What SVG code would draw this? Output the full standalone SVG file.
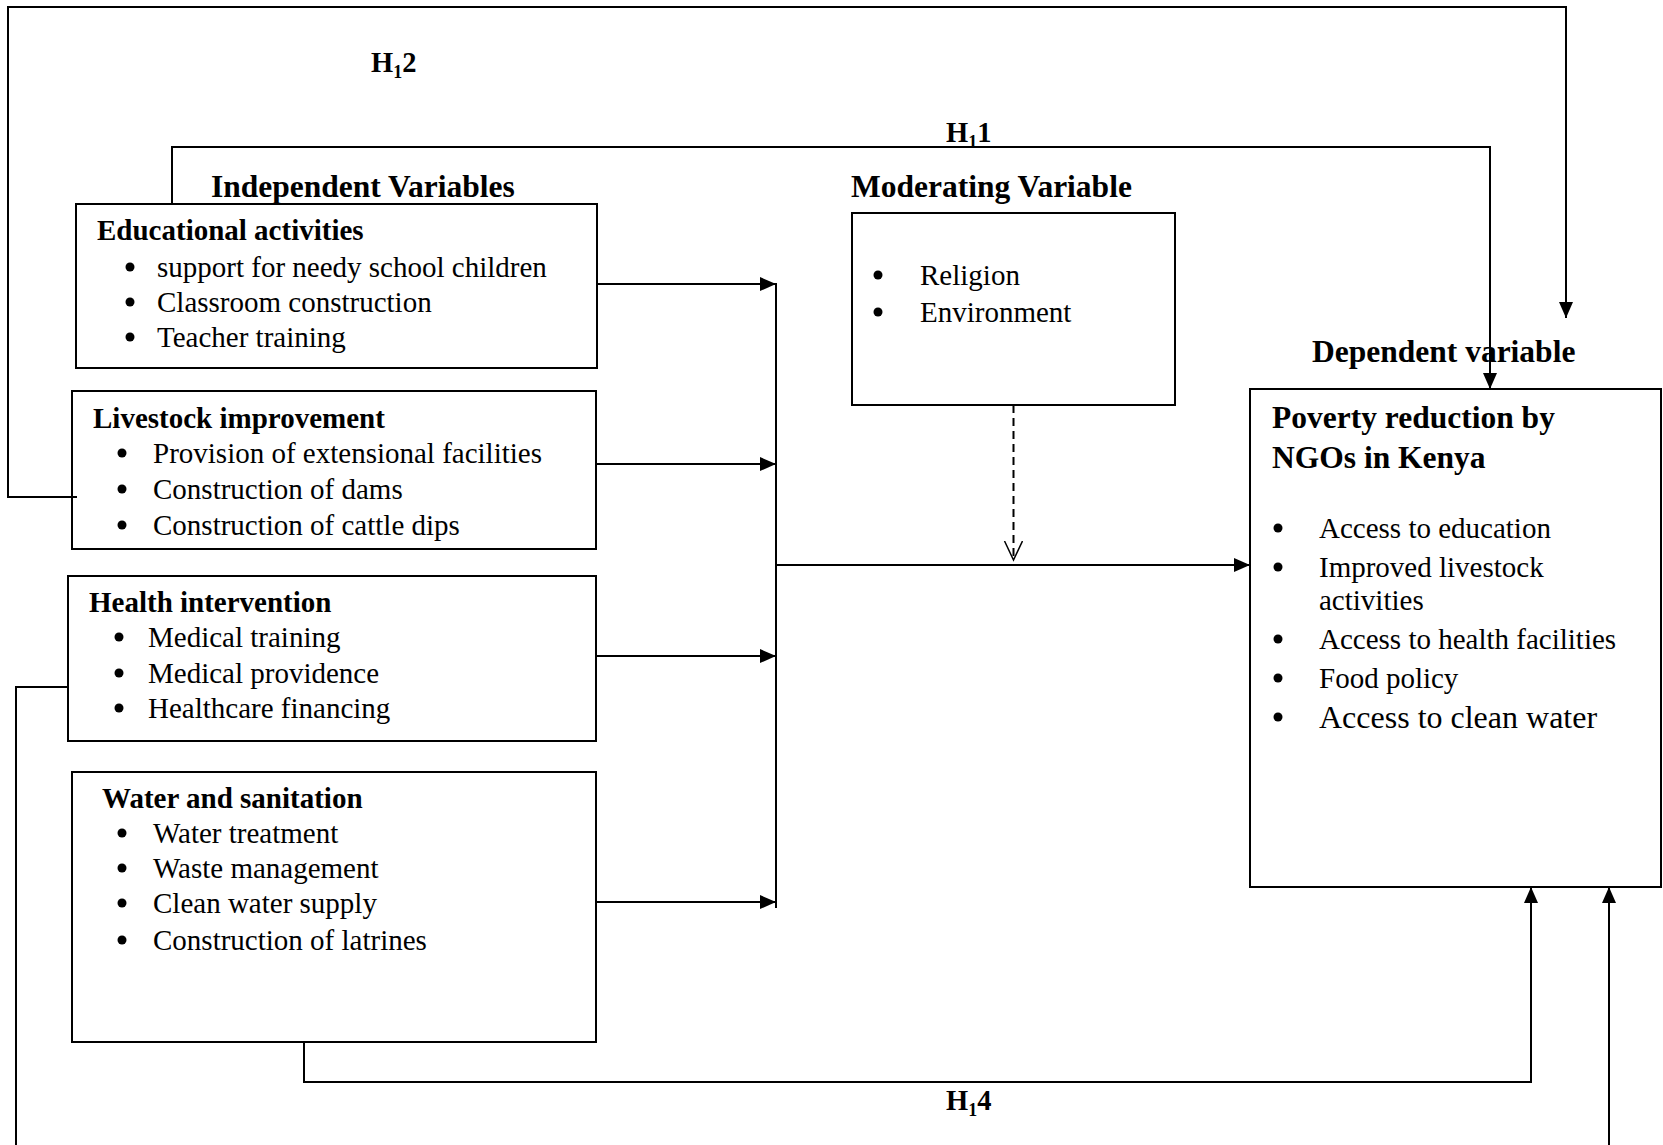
<svg xmlns="http://www.w3.org/2000/svg" width="1663" height="1145" viewBox="0 0 1663 1145">
<style>
text{font-family:"Liberation Serif","Times New Roman",serif;fill:#000}
.h{font-size:31.5px;font-weight:bold}
.t{font-size:29px;font-weight:bold}
.i{font-size:29px}
.big{font-size:32px}
.lab{font-size:28.5px;font-weight:bold}
.sub{font-size:18px}
.box{fill:#fff;stroke:#000;stroke-width:2}
.ln{fill:none;stroke:#000;stroke-width:2}
.b{fill:#000}
</style>
<defs>
<marker id="ah" markerUnits="userSpaceOnUse" markerWidth="17" markerHeight="15" refX="16" refY="7" orient="auto">
<path d="M0,0 L16,7 L0,14 z" fill="#000"/>
</marker>
<marker id="ov" markerUnits="userSpaceOnUse" markerWidth="22" markerHeight="22" refX="19" refY="9" orient="auto">
<path d="M0,0 L19,9 L0,18" fill="none" stroke="#000" stroke-width="1.5"/>
</marker>
</defs>
<rect width="1663" height="1145" fill="#fff"/>

<g id="labels">
<text class="lab" x="371" y="72">H<tspan class="sub" dy="6">1</tspan><tspan dy="-6">2</tspan></text>
<text class="lab" x="946" y="142">H<tspan class="sub" dy="6">1</tspan><tspan dy="-6">1</tspan></text>
<text class="lab" x="946" y="1110">H<tspan class="sub" dy="6">1</tspan><tspan dy="-6">4</tspan></text>
<text class="h" x="211" y="197">Independent Variables</text>
<text class="h" x="851" y="197">Moderating Variable</text>
<text class="h" x="1312" y="362">Dependent variable</text>
</g>

<g id="educational">
<rect class="box" x="76" y="204" width="521" height="164"/>
<text class="t" x="97" y="240">Educational activities</text>
<circle class="b" cx="130" cy="267" r="4.5"/><text class="i" x="157" y="277">support for needy school children</text>
<circle class="b" cx="130" cy="302" r="4.5"/><text class="i" x="157" y="312">Classroom construction</text>
<circle class="b" cx="130" cy="337" r="4.5"/><text class="i" x="157" y="347">Teacher training</text>
</g>

<g id="livestock">
<rect class="box" x="72" y="391" width="524" height="158"/>
<text class="t" x="93" y="428">Livestock improvement</text>
<circle class="b" cx="122" cy="453" r="4.5"/><text class="i" x="153" y="463">Provision of extensional facilities</text>
<circle class="b" cx="122" cy="489" r="4.5"/><text class="i" x="153" y="499">Construction of dams</text>
<circle class="b" cx="122" cy="525" r="4.5"/><text class="i" x="153" y="535">Construction of cattle dips</text>
</g>

<g id="health">
<rect class="box" x="68" y="576" width="528" height="165"/>
<text class="t" x="89" y="612">Health intervention</text>
<circle class="b" cx="119" cy="637" r="4.5"/><text class="i" x="148" y="647">Medical training</text>
<circle class="b" cx="119" cy="673" r="4.5"/><text class="i" x="148" y="683">Medical providence</text>
<circle class="b" cx="119" cy="708" r="4.5"/><text class="i" x="148" y="718">Healthcare financing</text>
</g>

<g id="water">
<rect class="box" x="72" y="772" width="524" height="270"/>
<text class="t" x="102" y="808">Water and sanitation</text>
<circle class="b" cx="122" cy="833" r="4.5"/><text class="i" x="153" y="843">Water treatment</text>
<circle class="b" cx="122" cy="868" r="4.5"/><text class="i" x="153" y="878">Waste management</text>
<circle class="b" cx="122" cy="903" r="4.5"/><text class="i" x="153" y="913">Clean water supply</text>
<circle class="b" cx="122" cy="940" r="4.5"/><text class="i" x="153" y="950">Construction of latrines</text>
</g>

<g id="moderating">
<rect class="box" x="852" y="213" width="323" height="192" stroke-width="1.5"/>
<circle class="b" cx="878" cy="275" r="4.5"/><text class="i" x="920" y="285">Religion</text>
<circle class="b" cx="878" cy="312" r="4.5"/><text class="i" x="920" y="322">Environment</text>
</g>

<g id="poverty">
<rect class="box" x="1250" y="389" width="411" height="498"/>
<text class="h" x="1272" y="428">Poverty reduction by</text>
<text class="h" x="1272" y="468">NGOs in Kenya</text>
<circle class="b" cx="1278" cy="528" r="4.5"/><text class="i" x="1319" y="538">Access to education</text>
<circle class="b" cx="1278" cy="567" r="4.5"/><text class="i" x="1319" y="577">Improved livestock</text>
<text class="i" x="1319" y="610">activities</text>
<circle class="b" cx="1278" cy="639" r="4.5"/><text class="i" x="1319" y="649">Access to health facilities</text>
<circle class="b" cx="1278" cy="678" r="4.5"/><text class="i" x="1319" y="688">Food policy</text>
<circle class="b" cx="1278" cy="717" r="4.5"/><text class="big" x="1319" y="728">Access to clean water</text>
</g>

<g id="connectors">
<path class="ln" d="M77 497 H8 V7 H1566 V318" marker-end="url(#ah)"/>
<path class="ln" d="M172 204 V147 H1490 V389" marker-end="url(#ah)"/>
<path class="ln" d="M68 687 H16 V1145"/>
<path class="ln" d="M304 1042 V1082 H1531 V887" marker-end="url(#ah)"/>
<path class="ln" d="M1609 1145 V887" stroke-width="2.5" marker-end="url(#ah)"/>
<path class="ln" d="M597 284 H776" marker-end="url(#ah)"/>
<path class="ln" d="M596 464 H776" marker-end="url(#ah)"/>
<path class="ln" d="M596 656 H776" marker-end="url(#ah)"/>
<path class="ln" d="M596 902 H776" marker-end="url(#ah)"/>
<path class="ln" d="M776 283 V908" stroke-width="2.5"/>
<path class="ln" d="M776 565 H1250" stroke-width="3" marker-end="url(#ah)"/>
<path class="ln" d="M1013.5 405 V560" stroke-width="1.3" stroke-dasharray="8,5" marker-end="url(#ov)"/>
</g>
</svg>
